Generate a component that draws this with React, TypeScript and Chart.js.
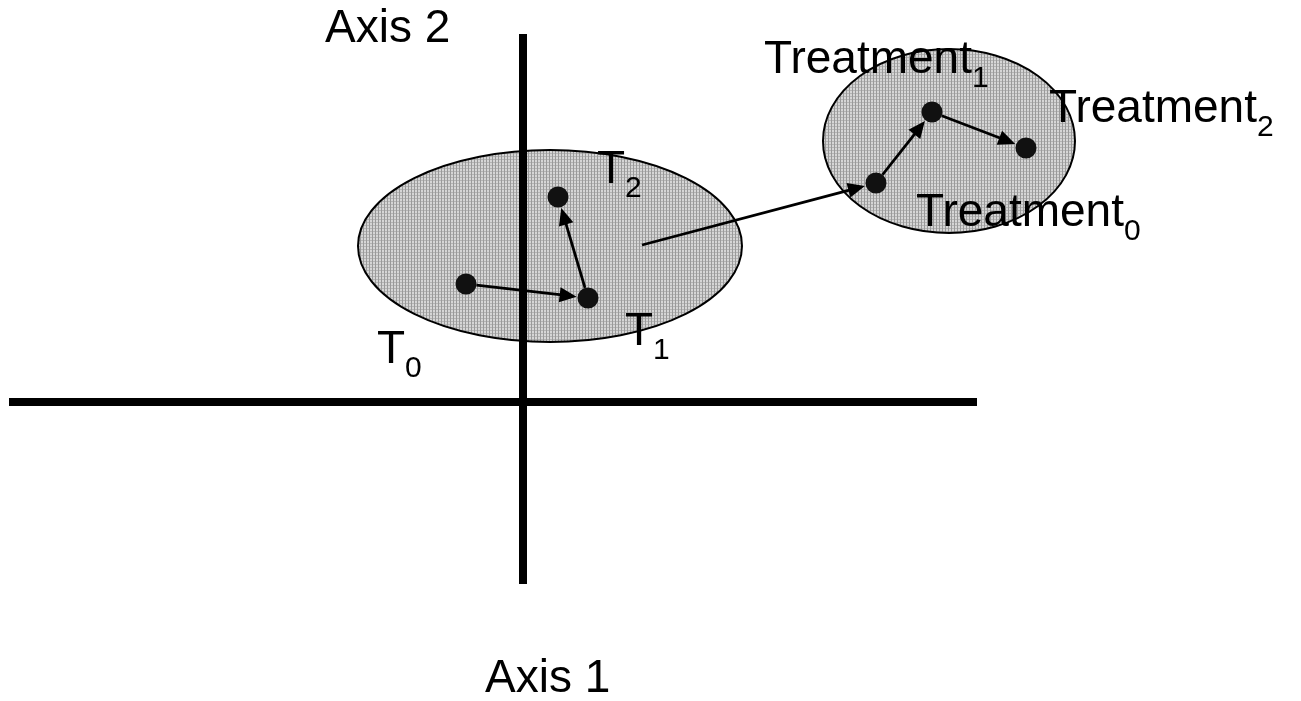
import React, { useEffect, useRef } from "react";
import { Chart, registerables } from "chart.js";

Chart.register(...registerables);

// ---- coordinate frame (units of the ordination space) ----
const xRange = [-5.23, 7.78];
const yRange = [-2.99, 4.02];

// ---- axes (segments) ----
const axis1X = [-5.14, 4.54];
const axis1Y = [0, 0];
const axis2X = [0, 0];
const axis2Y = [-1.82, 3.68];

// ---- sample positions ----
const pointNames = ["T0", "T1", "T2", "Treatment0", "Treatment1", "Treatment2"];
const pointX = [-0.57, 0.65, 0.35, 3.53, 4.09, 5.03];
const pointY = [1.18, 1.04, 2.05, 2.19, 2.9, 2.54];

// ---- shift origin (from control cloud to treatment cloud) ----
const shiftStartX = [1.19];
const shiftStartY = [1.57];

// ---- trajectories (arrows) ----
const arrowFrom = ["T0", "T1", "shift", "Treatment0", "Treatment1"];
const arrowTo = ["T1", "T2", "Treatment0", "Treatment1", "Treatment2"];

// ---- dispersion ellipses ----
const ellipseCX = [0.27, 4.26];
const ellipseCY = [1.56, 2.61];
const ellipseRX = [1.92, 1.26];
const ellipseRY = [0.96, 0.92];

// ---- text labels ----
const labelMain = ["Axis 2", "Axis 1", "T", "T", "T", "Treatment", "Treatment", "Treatment"];
const labelSub = ["", "", "0", "1", "2", "0", "1", "2"];
const labelX = [-1.98, -0.38, -1.46, 1.02, 0.74, 3.93, 2.41, 5.26];
const labelY = [3.6, -2.9, 0.39, 0.57, 2.19, 1.76, 3.29, 2.8];

const POINT_R = 10.5;
const FONT = '"Liberation Sans", Arial, Helvetica, sans-serif';

function makePattern(ctx: CanvasRenderingContext2D) {
  const c = document.createElement("canvas");
  c.width = 3;
  c.height = 3;
  const g = c.getContext("2d")!;
  g.fillStyle = "#d6d6d6";
  g.fillRect(0, 0, 3, 3);
  g.fillStyle = "#b4b4b4";
  g.fillRect(0, 0, 3, 1);
  g.fillStyle = "#9a9a9a";
  g.fillRect(0, 0, 1, 3);
  return ctx.createPattern(c, "repeat");
}

function resolvePoint(name: string) {
  if (name === "shift") return { x: shiftStartX[0], y: shiftStartY[0], r: 0 };
  const i = pointNames.indexOf(name);
  return { x: pointX[i], y: pointY[i], r: POINT_R };
}

const diagramPlugin = {
  id: "diagram",
  beforeDatasetsDraw(chart: any) {
    const { ctx, scales } = chart;
    const xs = scales.x;
    const ys = scales.y;
    const pat = makePattern(ctx);
    ctx.save();
    for (let i = 0; i < ellipseCX.length; i++) {
      const cx = xs.getPixelForValue(ellipseCX[i]);
      const cy = ys.getPixelForValue(ellipseCY[i]);
      const rx = Math.abs(xs.getPixelForValue(ellipseCX[i] + ellipseRX[i]) - cx);
      const ry = Math.abs(ys.getPixelForValue(ellipseCY[i] + ellipseRY[i]) - cy);
      ctx.beginPath();
      ctx.ellipse(cx, cy, rx, ry, 0, 0, Math.PI * 2);
      ctx.fillStyle = pat || "#c8c8c8";
      ctx.fill();
      ctx.lineWidth = 2;
      ctx.strokeStyle = "#000";
      ctx.stroke();
    }
    ctx.restore();
  },
  afterDatasetsDraw(chart: any) {
    const { ctx, scales } = chart;
    const xs = scales.x;
    const ys = scales.y;
    ctx.save();
    // arrows
    for (let i = 0; i < arrowFrom.length; i++) {
      const a = resolvePoint(arrowFrom[i]);
      const b = resolvePoint(arrowTo[i]);
      const x1 = xs.getPixelForValue(a.x);
      const y1 = ys.getPixelForValue(a.y);
      const x2 = xs.getPixelForValue(b.x);
      const y2 = ys.getPixelForValue(b.y);
      const dx = x2 - x1;
      const dy = y2 - y1;
      const len = Math.hypot(dx, dy);
      const ux = dx / len;
      const uy = dy / len;
      const sx = x1 + ux * a.r;
      const sy = y1 + uy * a.r;
      const tx = x2 - ux * (b.r + 1);
      const ty = y2 - uy * (b.r + 1);
      const headL = 17;
      const headW = 7.5;
      const bx = tx - ux * headL;
      const by = ty - uy * headL;
      ctx.strokeStyle = "#000";
      ctx.lineWidth = 2.8;
      ctx.beginPath();
      ctx.moveTo(sx, sy);
      ctx.lineTo(bx + ux * 2, by + uy * 2);
      ctx.stroke();
      ctx.fillStyle = "#000";
      ctx.beginPath();
      ctx.moveTo(tx, ty);
      ctx.lineTo(bx - uy * headW, by + ux * headW);
      ctx.lineTo(bx + uy * headW, by - ux * headW);
      ctx.closePath();
      ctx.fill();
    }
    // labels
    ctx.fillStyle = "#000";
    ctx.textBaseline = "alphabetic";
    ctx.textAlign = "left";
    for (let i = 0; i < labelMain.length; i++) {
      const px = xs.getPixelForValue(labelX[i]);
      const py = ys.getPixelForValue(labelY[i]);
      ctx.font = `46px ${FONT}`;
      ctx.fillText(labelMain[i], px, py);
      if (labelSub[i]) {
        const w = ctx.measureText(labelMain[i]).width;
        ctx.font = `30px ${FONT}`;
        ctx.fillText(labelSub[i], px + w, py + 14);
      }
    }
    ctx.restore();
  },
};

export default function App() {
  const ref = useRef<HTMLCanvasElement | null>(null);
  useEffect(() => {
    if (!ref.current) return;
    const chart = new Chart(ref.current, {
      type: "scatter",
      data: {
        datasets: [
          {
            label: "Axis 1",
            data: axis1X.map((x, i) => ({ x, y: axis1Y[i] })),
            showLine: true,
            borderColor: "#000",
            borderWidth: 8,
            pointRadius: 0,
            borderCapStyle: "butt",
          },
          {
            label: "Axis 2",
            data: axis2X.map((x, i) => ({ x, y: axis2Y[i] })),
            showLine: true,
            borderColor: "#000",
            borderWidth: 8,
            pointRadius: 0,
            borderCapStyle: "butt",
          },
          {
            label: "Samples",
            data: pointX.map((x, i) => ({ x, y: pointY[i] })),
            showLine: false,
            pointRadius: POINT_R,
            pointBackgroundColor: "#111",
            pointBorderWidth: 0,
            pointHoverRadius: POINT_R,
          },
        ],
      },
      options: {
        responsive: false,
        animation: false,
        layout: { padding: 0, autoPadding: false },
        plugins: { legend: { display: false }, tooltip: { enabled: false } },
        events: [],
        scales: {
          x: { type: "linear", min: xRange[0], max: xRange[1], display: false },
          y: { type: "linear", min: yRange[0], max: yRange[1], display: false },
        },
      },
      plugins: [diagramPlugin],
    } as any);
    return () => chart.destroy();
  }, []);
  return (
    <div style={{ position: "fixed", left: 0, top: 0, width: 1301, height: 701, background: "#fff" }}>
      <canvas ref={ref} width={1301} height={701} style={{ display: "block" }} />
    </div>
  );
}
